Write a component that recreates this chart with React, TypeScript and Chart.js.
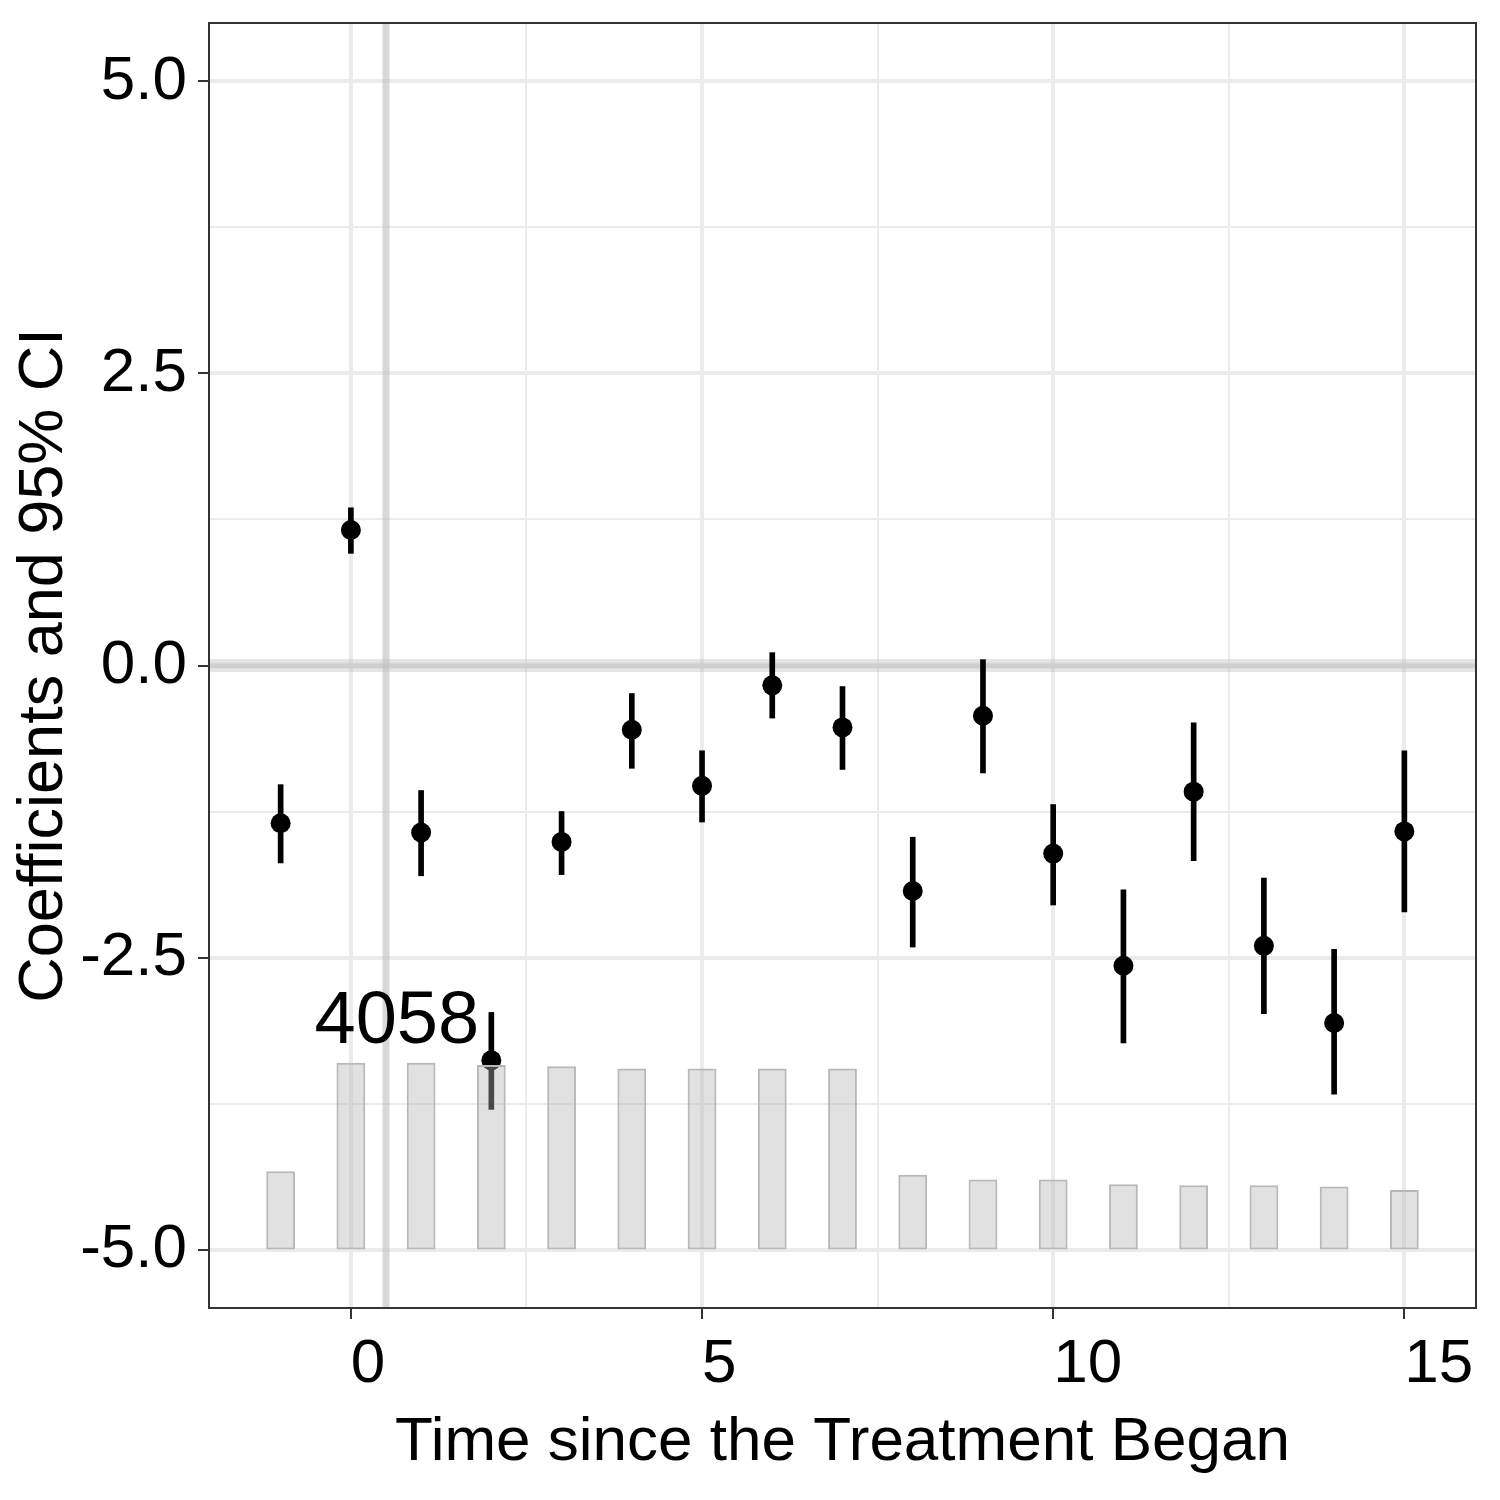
import { useEffect, useRef } from "react";
import { Chart, registerables } from "chart.js";

Chart.register(...registerables);

// ---- data ----
const periods = [-1, 0, 1, 2, 3, 4, 5, 6, 7, 8, 9, 10, 11, 12, 13, 14, 15];
const coefficients = [-1.35, 1.16, -1.43, -3.38, -1.51, -0.55, -1.03, -0.17, -0.53, -1.93, -0.43, -1.61, -2.57, -1.08, -2.4, -3.06, -1.42];
const ciLower = [-1.69, 0.96, -1.8, -3.8, -1.79, -0.88, -1.34, -0.45, -0.89, -2.41, -0.92, -2.05, -3.23, -1.67, -2.98, -3.67, -2.11];
const ciUpper = [-1.02, 1.35, -1.07, -2.97, -1.25, -0.24, -0.73, 0.11, -0.18, -1.47, 0.05, -1.19, -1.92, -0.49, -1.82, -2.43, -0.73];
const barTops = [-4.33, -3.4, -3.4, -3.42, -3.43, -3.45, -3.45, -3.45, -3.45, -4.36, -4.4, -4.4, -4.44, -4.45, -4.45, -4.46, -4.49];
const barBase = -5;

const yMajorTicks = [-5, -2.5, 0, 2.5, 5];
const yMinorTicks = [-3.75, -1.25, 1.25, 3.75];
const xMajorTicks = [0, 5, 10, 15];
const xMinorTicks = [2.5, 7.5, 12.5];
const xLimits = [-2.02, 16.02];
const yLimits = [-5.5, 5.5];

const refLineY = 0;
const refLineX = 0.5;
const annotationText = "4058";
const annotationX = 0.654;
const annotationY = -3.23;

const xTitle = "Time since the Treatment Began";
const yTitle = "Coefficients and 95% CI";

const FONT = '"Liberation Sans", Arial, Helvetica, sans-serif';

const panelPlugin = {
  id: "panelDecor",
  beforeDatasetsDraw(chart: any) {
    const { ctx, chartArea: a, scales } = chart;
    const x = scales.x;
    const y = scales.y;
    ctx.save();
    ctx.beginPath();
    ctx.rect(a.left, a.top, a.right - a.left, a.bottom - a.top);
    ctx.clip();
    const py = y.getPixelForValue(refLineY);
    ctx.strokeStyle = "rgba(190,190,190,0.4)";
    ctx.lineWidth = 13;
    ctx.beginPath();
    ctx.moveTo(a.left, py);
    ctx.lineTo(a.right, py);
    ctx.stroke();
    ctx.strokeStyle = "rgba(190,190,190,0.35)";
    ctx.lineWidth = 6;
    ctx.beginPath();
    ctx.moveTo(a.left, py);
    ctx.lineTo(a.right, py);
    ctx.stroke();
    const px = x.getPixelForValue(refLineX);
    ctx.strokeStyle = "rgba(190,190,190,0.6)";
    ctx.lineWidth = 7;
    ctx.beginPath();
    ctx.moveTo(px, a.top);
    ctx.lineTo(px, a.bottom);
    ctx.stroke();
    ctx.restore();
  },
  afterDatasetsDraw(chart: any) {
    const { ctx, scales } = chart;
    ctx.save();
    ctx.font = `74px ${FONT}`;
    ctx.fillStyle = "#000000";
    ctx.textAlign = "center";
    ctx.textBaseline = "alphabetic";
    ctx.fillText(annotationText, scales.x.getPixelForValue(annotationX), scales.y.getPixelForValue(annotationY));
    ctx.restore();
  },
  afterDraw(chart: any) {
    const { ctx, chartArea: a } = chart;
    ctx.save();
    ctx.strokeStyle = "#333333";
    ctx.lineWidth = 2;
    ctx.strokeRect(a.left, a.top, a.right - a.left, a.bottom - a.top);
    ctx.restore();
  },
};

export default function App() {
  const canvasRef = useRef<HTMLCanvasElement | null>(null);

  useEffect(() => {
    document.body.style.margin = "0";
    const canvas = canvasRef.current;
    if (!canvas) return;

    const yTickValues = [...yMajorTicks, ...yMinorTicks].sort((p, q) => p - q);
    const xTickValues = [...xMajorTicks, ...xMinorTicks].sort((p, q) => p - q);

    const chart = new Chart(canvas, {
      type: "bar",
      data: {
        datasets: [
          {
            type: "bar",
            label: "count",
            data: periods.map((p, i) => ({ x: p, y: [barBase, barTops[i]] })) as any,
            backgroundColor: "rgba(179,179,179,0.4)",
            borderColor: "#b8b8b8",
            borderWidth: 2,
            borderSkipped: false,
            grouped: false,
            barPercentage: 0.41,
            categoryPercentage: 1,
            order: 0,
          } as any,
          {
            type: "scatter",
            label: "coef",
            data: periods.map((p, i) => ({ x: p, y: coefficients[i] })),
            pointRadius: 10,
            pointBackgroundColor: "#000000",
            pointBorderWidth: 0,
            showLine: false,
            order: 1,
          } as any,
          {
            type: "bar",
            label: "ci",
            data: periods.map((p, i) => ({ x: p, y: [ciLower[i], ciUpper[i]] })) as any,
            backgroundColor: "#000000",
            borderWidth: 0,
            grouped: false,
            barThickness: 5,
            order: 2,
          } as any,
        ],
      },
      options: {
        responsive: false,
        devicePixelRatio: 1,
        animation: false,
        layout: { padding: { top: 23, right: 24, bottom: 0, left: 0 } },
        plugins: {
          legend: { display: false },
          tooltip: { enabled: false },
        },
        scales: {
          x: {
            type: "linear",
            offset: false,
            min: xLimits[0],
            max: xLimits[1],
            afterBuildTicks: (scale: any) => {
              scale.ticks = xTickValues.map((v) => ({ value: v }));
            },
            afterFit: (scale: any) => {
              scale.height = 192;
              scale.paddingLeft = 0;
              scale.paddingRight = 0;
            },
            border: { display: false },
            grid: {
              offset: false,
              color: "#ebebeb",
              lineWidth: (c: any) => (xMajorTicks.includes(c.tick?.value) ? 4 : 2),
              tickColor: (c: any) => (xMajorTicks.includes(c.tick?.value) ? "#333333" : "rgba(0,0,0,0)"),
              tickWidth: 2,
              tickLength: 11,
              drawTicks: true,
            },
            ticks: {
              autoSkip: false,
              maxRotation: 0,
              minRotation: 0,
              align: "start",
              padding: 9,
              color: "#000000",
              font: { family: FONT, size: 62 },
              callback: (v: any) => (xMajorTicks.includes(Number(v)) ? String(v) : ""),
            },
            title: {
              display: true,
              text: xTitle,
              color: "#000000",
              font: { family: FONT, size: 62 },
              padding: { top: 0, bottom: 20 },
            },
          },
          y: {
            type: "linear",
            min: yLimits[0],
            max: yLimits[1],
            afterBuildTicks: (scale: any) => {
              scale.ticks = yTickValues.map((v) => ({ value: v }));
            },
            afterFit: (scale: any) => {
              scale.width = 209;
              scale.paddingTop = 0;
              scale.paddingBottom = 0;
            },
            border: { display: false },
            grid: {
              color: "#ebebeb",
              lineWidth: (c: any) => (yMajorTicks.includes(c.tick?.value) ? 4 : 2),
              tickColor: (c: any) => (yMajorTicks.includes(c.tick?.value) ? "#333333" : "rgba(0,0,0,0)"),
              tickWidth: 2,
              tickLength: 11,
              drawTicks: true,
            },
            ticks: {
              autoSkip: false,
              padding: 11,
              color: "#000000",
              font: { family: FONT, size: 62 },
              callback: (v: any) => (yMajorTicks.includes(Number(v)) ? Number(v).toFixed(1) : ""),
            },
            title: {
              display: true,
              text: yTitle,
              color: "#000000",
              font: { family: FONT, size: 63 },
              padding: { top: 7, bottom: 0 },
            },
          },
        },
      } as any,
      plugins: [panelPlugin],
    });

    return () => {
      chart.destroy();
    };
  }, []);

  return (
    <div style={{ width: 1500, height: 1500, position: "relative" }}>
      <canvas ref={canvasRef} width={1500} height={1500} style={{ width: 1500, height: 1500, display: "block" }} />
    </div>
  );
}
